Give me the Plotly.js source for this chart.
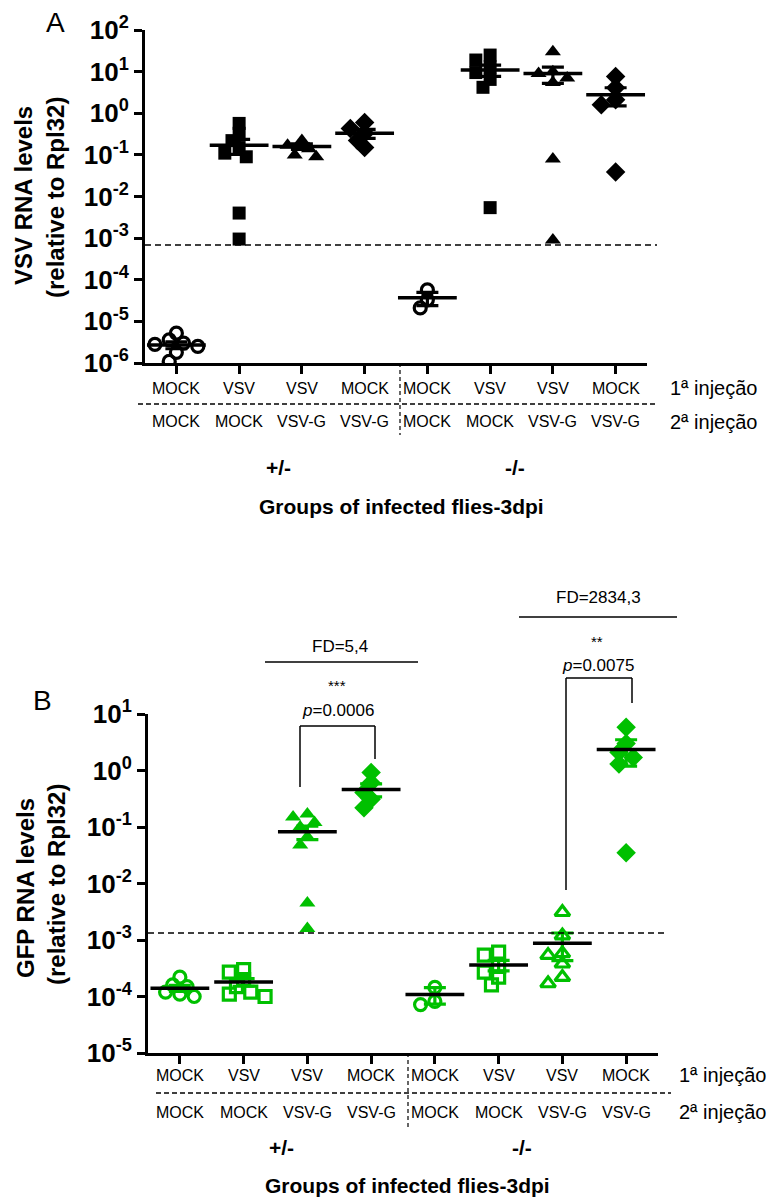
<!DOCTYPE html>
<html><head><meta charset="utf-8">
<script src="https://cdn.plot.ly/plotly-3.0.1.min.js"></script>
<style>html,body{margin:0;padding:0;background:#fff}#chart{width:770px;height:1198px}</style>
</head><body><div id="chart"></div>
<script>
// ---------- DATA ----------
const firstInjection  = ["MOCK","VSV","VSV","MOCK","MOCK","VSV","VSV","MOCK"];
const secondInjection = ["MOCK","MOCK","VSV-G","VSV-G","MOCK","MOCK","VSV-G","VSV-G"];
const genotypes = ["+/-","-/-"];
const yTickValsA = [1e-6,1e-5,1e-4,1e-3,1e-2,1e-1,1e0,1e1,1e2];
const yTickTextA = ["10<sup>-6</sup>","10<sup>-5</sup>","10<sup>-4</sup>","10<sup>-3</sup>","10<sup>-2</sup>","10<sup>-1</sup>","10<sup>0</sup>","10<sup>1</sup>","10<sup>2</sup>"];
const yTickValsB = [1e-5,1e-4,1e-3,1e-2,1e-1,1e0,1e1];
const yTickTextB = ["10<sup>-5</sup>","10<sup>-4</sup>","10<sup>-3</sup>","10<sup>-2</sup>","10<sup>-1</sup>","10<sup>0</sup>","10<sup>1</sup>"];

const vsvPoints = [
  [5.2e-6, 3.6e-6, 3.0e-6, 2.8e-6, 2.5e-6, 1.8e-6, 1.1e-6],
  [0.57, 0.33, 0.22, 0.15, 0.11, 0.09, 0.004, 0.00095],
  [0.22, 0.17, 0.14, 0.10, 0.09],
  [0.60, 0.43, 0.33, 0.22, 0.15],
  [5.7e-5, 3.3e-5, 2.1e-5],
  [25, 19, 13, 9.5, 6.5, 4.2, 0.0054],
  [30, 10, 9, 7, 5.5, 0.08, 0.0009],
  [7.6, 4.1, 2.1, 1.6, 0.039]
];
const vsvMean = [2.7e-6, 0.17, 0.16, 0.33, 3.7e-5, 11, 9.0, 2.8];
const vsvSem  = [0.5e-6, 0.067, 0.024, 0.08, 1.3e-5, 3.3, 3.8, 1.3];
const vsvThreshold = 6.8e-4;

const gfpPoints = [
  [2.2e-4, 1.6e-4, 1.5e-4, 1.2e-4, 1.1e-4, 1.0e-4],
  [3.0e-4, 2.7e-4, 2.0e-4, 1.5e-4, 1.2e-4, 1.0e-4, 1.1e-4],
  [0.17, 0.15, 0.12, 0.10, 0.067, 0.048, 0.0045, 0.0016],
  [0.92, 0.61, 0.41, 0.31, 0.22],
  [1.45e-4, 8.2e-5, 7.2e-5],
  [6.1e-4, 5.4e-4, 3.4e-4, 2.7e-4, 2.2e-4, 1.6e-4],
  [3.1e-3, 1.2e-3, 5.8e-4, 5.4e-4, 3.8e-4, 2.2e-4, 1.7e-4],
  [5.8, 3.0, 2.1, 1.7, 1.3, 0.035]
];
const gfpMean = [1.4e-4, 1.8e-4, 0.082, 0.46, 1.08e-4, 3.6e-4, 8.8e-4, 2.35];
const gfpSem  = [1.7e-5, 2.8e-5, 0.022, 0.12, 3.5e-5, 7.5e-5, 4.5e-4, 1.15];
const gfpThreshold = 1.33e-3;
const foldDiff = ["FD=5,4","FD=2834,3"];
const stars = ["***","**"];
const pValues = ["0.0006","0.0075"];

// ---------- STYLE / LAYOUT ----------
const W = 770, H = 1198;
const GREEN = "rgb(0,192,0)";
const FONT = "Liberation Sans";
const px = x => x / W, py = y => 1 - y / H;
const symA = ["circle-open","square","triangle-up","diamond","circle-open","square","triangle-up","diamond"];
const symB = ["circle-open","square-open","triangle-up","diamond","circle-open","square-open","triangle-up-open","diamond"];
const sizes = {"circle-open":12,"square":13,"square-open":12,"triangle-up":14,"triangle-up-open":13,"diamond":15};

const domA = {x:[145,647], y:[30,363]};
const domB = {x:[148,658], y:[714,1053]};

function swarm(vals, pxPerUnit, pxPerDecade, d){
  const idx = vals.map((v,i)=>i).sort((a,b)=>vals[b]-vals[a]);
  const placed = [], off = new Array(vals.length).fill(0);
  for (const i of idx){
    const y = Math.log10(vals[i]) * pxPerDecade;
    const cands = [0];
    for (let k=1;k<7;k++){ cands.push(-k*d*0.55, k*d*0.55); }
    let chosen = cands[cands.length-1];
    for (const c of cands){
      if (placed.every(p => Math.hypot(p.x-c, p.y-y) >= d*0.75)){ chosen = c; break; }
    }
    placed.push({x:chosen, y}); off[i] = chosen / pxPerUnit;
  }
  return off;
}

const traces = [];
function addPanel(points, means, sems, syms, color, xa, ya, dom, yr){
  const pxUnit = (dom.x[1]-dom.x[0]) / 8;
  const pxDec = (dom.y[1]-dom.y[0]) / (yr[1]-yr[0]);
  points.forEach((vals, g) => {
    const off = swarm(vals, pxUnit, pxDec, 13);
    const open = syms[g].includes("open");
    traces.push({
      type:"scatter", mode:"markers", xaxis:xa, yaxis:ya, hoverinfo:"skip",
      x: vals.map((v,i)=> g + off[i]), y: vals,
      marker:{symbol:syms[g], size:sizes[syms[g]], color:color,
        line:{width: open ? 3.2 : 0, color:color}}
    });
  });
  traces.push({
    type:"scatter", mode:"markers", xaxis:xa, yaxis:ya, hoverinfo:"skip",
    x: means.map((m,i)=>i), y: means,
    marker:{size:1, color:"rgba(0,0,0,0)"},
    error_y:{type:"data", array:sems, symmetric:true, color:color, thickness:3.2, width:11}
  });
  traces.push({
    type:"scatter", mode:"markers", xaxis:xa, yaxis:ya, hoverinfo:"skip",
    x: means.map((m,i)=>i), y: means,
    marker:{symbol:"line-ew", size:42, color:"#000", line:{width:3.5, color:"#000"}}
  });
}
addPanel(vsvPoints, vsvMean, vsvSem, symA, "#000", "x", "y", domA, [-6,2]);
addPanel(gfpPoints, gfpMean, gfpSem, symB, GREEN, "x2", "y2", domB, [-5,1]);

const xAxisBase = {range:[-0.5,7.5], showline:true, linewidth:3, linecolor:"#000",
  ticks:"outside", ticklen:8, tickwidth:3, tickcolor:"#000", tickvals:[0,1,2,3,4,5,6,7],
  showticklabels:false, showgrid:false, zeroline:false, fixedrange:true};
const yAxisBase = {type:"log", showline:true, linewidth:3, linecolor:"#000",
  ticks:"outside", ticklen:8, tickwidth:3, tickcolor:"#000", showgrid:false, zeroline:false,
  tickfont:{family:FONT, size:26, color:"#000", weight:"bold"}, fixedrange:true};

const annotations = [];
const shapes = [];
function txt(x, y, text, size, opts){
  annotations.push(Object.assign({x:px(x), y:py(y), xref:"paper", yref:"paper", text,
    xanchor:"center", yanchor:"middle",
    showarrow:false, font:{family:FONT, size, color:"#000"}}, opts||{}));
}
function line(x0,y0,x1,y1,w,dash){
  shapes.push({type:"line", xref:"paper", yref:"paper", x0:px(x0), y0:py(y0), x1:px(x1), y1:py(y1),
    line:{color:"#000", width:w, dash:dash||"solid"}});
}
function catLabels(xa, yRow1, yRow2){
  firstInjection.forEach((t,i)=>annotations.push({x:i, xref:xa, y:py(yRow1), yref:"paper", text:t,
    xanchor:"center", yanchor:"middle", showarrow:false, font:{family:FONT, size:16, color:"#000"}}));
  secondInjection.forEach((t,i)=>annotations.push({x:i, xref:xa, y:py(yRow2), yref:"paper", text:t,
    xanchor:"center", yanchor:"middle", showarrow:false, font:{family:FONT, size:16, color:"#000"}}));
}

// Panel A text
txt(55, 22, "A", 28);
txt(23, 196, "<b>VSV RNA levels</b>", 24, {textangle:-90});
txt(55, 198, "<b>(relative to Rpl32)</b>", 24, {textangle:-90});
catLabels("x", 388, 422);
txt(713, 388, "1ª injeção", 20);
txt(713, 422, "2ª injeção", 20);
txt(278, 467, "<b>" + genotypes[0] + "</b>", 21);
txt(515, 467, "<b>" + genotypes[1] + "</b>", 21);
txt(402, 507, "<b>Groups of infected flies-3dpi</b>", 21);
line(138, 404, 658, 404, 1.5, "5px,3px");
line(400, 363, 400, 435, 1.2, "4px,3px");
shapes.push({type:"line", xref:"paper", yref:"y", x0:px(145), x1:px(657), y0:vsvThreshold, y1:vsvThreshold,
  line:{color:"#000", width:1.5, dash:"6px,4px"}});

// Panel B text
txt(42, 700, "B", 28);
txt(25, 888, "<b>GFP RNA levels</b>", 24, {textangle:-90});
txt(56, 885, "<b>(relative to Rpl32)</b>", 24, {textangle:-90});
catLabels("x2", 1075, 1112);
txt(722, 1075, "1ª injeção", 20);
txt(722, 1112, "2ª injeção", 20);
txt(281, 1147, "<b>" + genotypes[0] + "</b>", 21);
txt(522, 1147, "<b>" + genotypes[1] + "</b>", 21);
txt(407, 1185, "<b>Groups of infected flies-3dpi</b>", 21);
line(156, 1093, 671, 1093, 1.5, "5px,3px");
line(408, 1053, 408, 1128, 1.2, "4px,3px");
shapes.push({type:"line", xref:"paper", yref:"y2", x0:px(148), x1:px(668), y0:gfpThreshold, y1:gfpThreshold,
  line:{color:"#000", width:1.5, dash:"6px,4px"}});

// significance
txt(340, 646, foldDiff[0], 17);
line(265, 662, 418, 662, 1.5);
txt(337, 685, stars[0], 15);
txt(338, 710, "<i>p</i>=" + pValues[0], 17);
line(300, 787, 300, 726, 1.5); line(300, 726, 375, 726, 1.5); line(375, 726, 375, 759, 1.5);
txt(598, 597, foldDiff[1], 17);
line(519, 617, 677, 617, 1.5);
txt(597, 641, stars[1], 15);
txt(598, 665, "<i>p</i>=" + pValues[1], 17);
line(566, 890, 566, 678, 1.5); line(566, 678, 632, 678, 1.5); line(632, 678, 632, 703, 1.5);

const layout = {
  width:W, height:H, margin:{l:0,r:0,t:0,b:0}, paper_bgcolor:"#fff", plot_bgcolor:"rgba(0,0,0,0)",
  showlegend:false, font:{family:FONT, color:"#000"},
  xaxis: Object.assign({}, xAxisBase, {domain:[px(domA.x[0]), px(domA.x[1])], anchor:"y"}),
  yaxis: Object.assign({}, yAxisBase, {domain:[py(domA.y[1]), py(domA.y[0])], anchor:"x",
    range:[-6,2], tickvals:yTickValsA, ticktext:yTickTextA}),
  xaxis2: Object.assign({}, xAxisBase, {domain:[px(domB.x[0]), px(domB.x[1])], anchor:"y2"}),
  yaxis2: Object.assign({}, yAxisBase, {domain:[py(domB.y[1]), py(domB.y[0])], anchor:"x2",
    range:[-5,1], tickvals:yTickValsB, ticktext:yTickTextB}),
  annotations, shapes
};
Plotly.newPlot("chart", traces, layout, {staticPlot:true, displayModeBar:false});
</script></body></html>
